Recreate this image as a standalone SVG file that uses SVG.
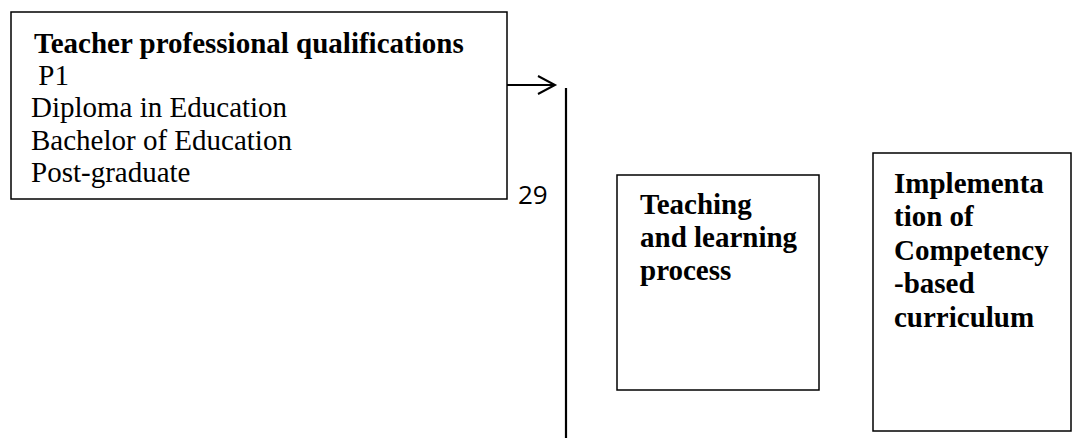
<svg xmlns="http://www.w3.org/2000/svg" width="1074" height="440" viewBox="0 0 1074 440">
  <style>
    .box { fill: #ffffff; stroke: #000000; stroke-width: 1.5; }
    .t { font-family: "Liberation Serif", "Times New Roman", serif; font-size: 29px; fill: #000000; }
    .b { font-weight: bold; }
    .num { font-family: "Open Sans", "Liberation Sans", sans-serif; font-size: 26px; fill: #000000; }
    .conn { stroke: #000000; fill: none; }
  </style>
  <rect width="1074" height="440" fill="#ffffff"/>
  <g id="node-qualifications">
    <rect class="box" x="11" y="12" width="496" height="187"/>
    <text class="t b" x="34" y="53">Teacher professional qualifications</text>
    <text class="t" x="31" y="85" xml:space="preserve"> P1</text>
    <text class="t" x="31" y="117">Diploma in Education</text>
    <text class="t" x="31" y="150">Bachelor of Education</text>
    <text class="t" x="31" y="182">Post-graduate</text>
  </g>
  <g id="connectors">
    <line class="conn" x1="507" y1="85" x2="554" y2="85" stroke-width="2"/>
    <polyline class="conn" points="538,76 555,85 538,94" stroke-width="2"/>
    <line class="conn" x1="566" y1="88" x2="566" y2="438" stroke-width="2.2"/>
  </g>
  <g id="page-number">
    <text class="num" x="518" y="204">29</text>
  </g>
  <g id="node-teaching">
    <rect class="box" x="617" y="175" width="202" height="215"/>
    <text class="t b" x="640" y="214">Teaching</text>
    <text class="t b" x="640" y="247">and learning</text>
    <text class="t b" x="640" y="280">process</text>
  </g>
  <g id="node-implementation">
    <rect class="box" x="873" y="153" width="198" height="278"/>
    <text class="t b" x="894" y="193">Implementa</text>
    <text class="t b" x="894" y="226">tion of</text>
    <text class="t b" x="894" y="260">Competency</text>
    <text class="t b" x="894" y="293">-based</text>
    <text class="t b" x="894" y="327">curriculum</text>
  </g>
</svg>
